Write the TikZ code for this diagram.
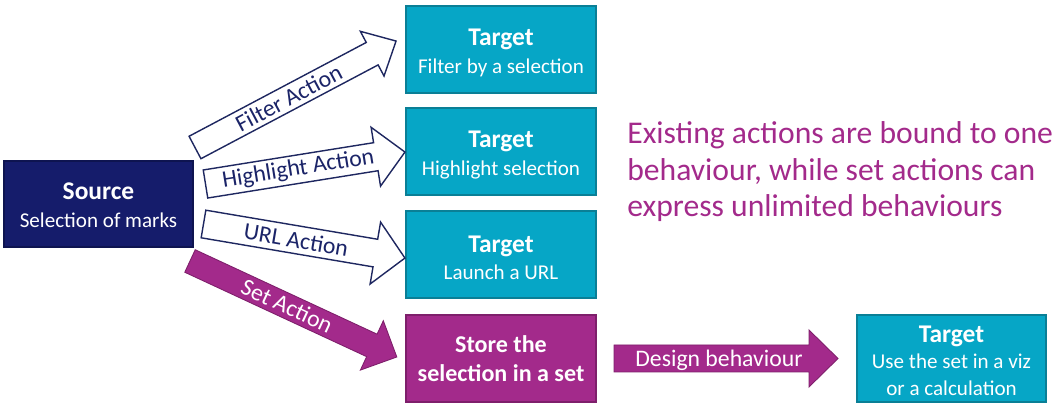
\documentclass[tikz,border=0pt]{standalone}
\usepackage{fontspec}
\setmainfont{Carlito}
\definecolor{srcfill}{HTML}{151C6B}
\definecolor{srcedge}{HTML}{0E1450}
\definecolor{tgtfill}{HTML}{06A6C6}
\definecolor{tgtedge}{HTML}{0A7F96}
\definecolor{purp}{HTML}{A32A8B}
\definecolor{purpedge}{HTML}{7E1F6B}
\definecolor{arrline}{HTML}{1E2760}
\definecolor{arrtext}{HTML}{1B2468}
\tikzset{
  tbox/.style={draw=tgtedge, fill=tgtfill, line width=0.7pt,
    minimum width=3.8cm, minimum height=1.74cm, inner sep=0pt},
  sbox/.style={tbox, draw=srcedge, fill=srcfill, minimum width=3.78cm, minimum height=1.72cm},
  pbox/.style={tbox, draw=purpedge, fill=purp},
  btext/.style={text=white, align=center, inner sep=0pt, font=\fontsize{12}{15.5}\selectfont},
  ptext/.style={btext, font=\fontsize{13.7}{16.4}\selectfont\bfseries},
  outarrow/.style={draw=arrline, fill=white, line width=0.8pt, line join=miter},
  purarrow/.style={fill=purp, draw=purpedge, line width=0.5pt},
  alabel/.style={font=\fontsize{13.5}{16}\selectfont, inner sep=0pt},
  note/.style={font=\fontsize{18}{21}\selectfont, text=purp, align=left, inner sep=0pt}
}
\newcommand{\ttl}[1]{{\fontsize{14.5}{16}\selectfont\bfseries #1}}
% block arrow shape: #1 style, #2 length, #3 half shaft, #4 half head, #5 head length
\newcommand{\barrowshape}[5]{%
  \draw[#1] (0,-#3) -- ({#2-#5},-#3) -- ({#2-#5},-#4) -- (#2,0) -- ({#2-#5},#4)
    -- ({#2-#5},#3) -- (0,#3) -- cycle;}
\begin{document}
\begin{tikzpicture}[x=0.02cm,y=-0.02cm]
\useasboundingbox (0,0) rectangle (1059,408);

% boxes
\node[sbox] (src) at (98.5,204) {};
\node[tbox] (t1) at (501,49.5) {};
\node[tbox] (t2) at (501,151.5) {};
\node[tbox] (t3) at (501,254.5) {};
\node[pbox] (store) at (501,358.5) {};
\node[tbox, minimum width=3.78cm] (t4) at (951.5,358.5) {};

% box texts
\node[btext, font=\fontsize{12}{16}\selectfont] (srctx) at ([yshift=-1.5*0.02cm]src.center)
  {\ttl{Source}\\Selection of marks};
\node[btext] (t1tx) at ([yshift=-3.5*0.02cm]t1.center) {\ttl{Target}\\Filter by a selection};
\node[btext] (t2tx) at ([yshift=-3.5*0.02cm]t2.center) {\ttl{Target}\\Highlight selection};
\node[btext] (t3tx) at ([yshift=-3*0.02cm]t3.center) {\ttl{Target}\\Launch a URL};
\node[ptext] (storetx) at (store.center) {Store the\\selection in a set};
\node[btext, font=\fontsize{12}{15}\selectfont] (t4tx) at ([yshift=-2*0.02cm]t4.center)
  {\ttl{Target}\\Use the set in a viz\\or a calculation};

% note text
\node[note, anchor=base west] (note) at (627,217)
  {Existing actions are bound to one\\behaviour, while set actions can\\express unlimited behaviours};

% Filter Action arrow
\begin{scope}[shift={(195,147.5)}, rotate=27.9]
  \barrowshape{outarrow}{227.5}{12.7}{25.3}{27}
  \node[alabel, text=arrtext, rotate=27.9] (lfilter) at (106,0) {Filter Action};
\end{scope}
% Highlight Action arrow
\begin{scope}[shift={(205.5,184)}, rotate=9.1]
  \barrowshape{outarrow}{202}{14.2}{29.8}{29.5}
  \node[alabel, text=arrtext, rotate=9.1] (lhigh) at (94,0) {Highlight Action};
\end{scope}
% URL Action arrow
\begin{scope}[shift={(203.5,224)}, rotate=-9.6]
  \barrowshape{outarrow}{204.3}{14}{31.4}{30}
  \node[alabel, text=arrtext, rotate=-9.6] (lurl) at (94,0) {URL Action};
\end{scope}
% Set Action arrow
\begin{scope}[shift={(190,261)}, rotate=-24.9]
  \barrowshape{purarrow}{228}{12.4}{27.2}{27.5}
  \node[alabel, text=white, rotate=-24.9] (lset) at (107,0) {Set Action};
\end{scope}
% Design behaviour arrow
\begin{scope}[shift={(614,358.5)}]
  \barrowshape{purarrow}{224}{13.5}{28.5}{29}
  \node[alabel, text=white] (ldesign) at (105,1.5) {Design behaviour};
\end{scope}
\end{tikzpicture}
\end{document}
